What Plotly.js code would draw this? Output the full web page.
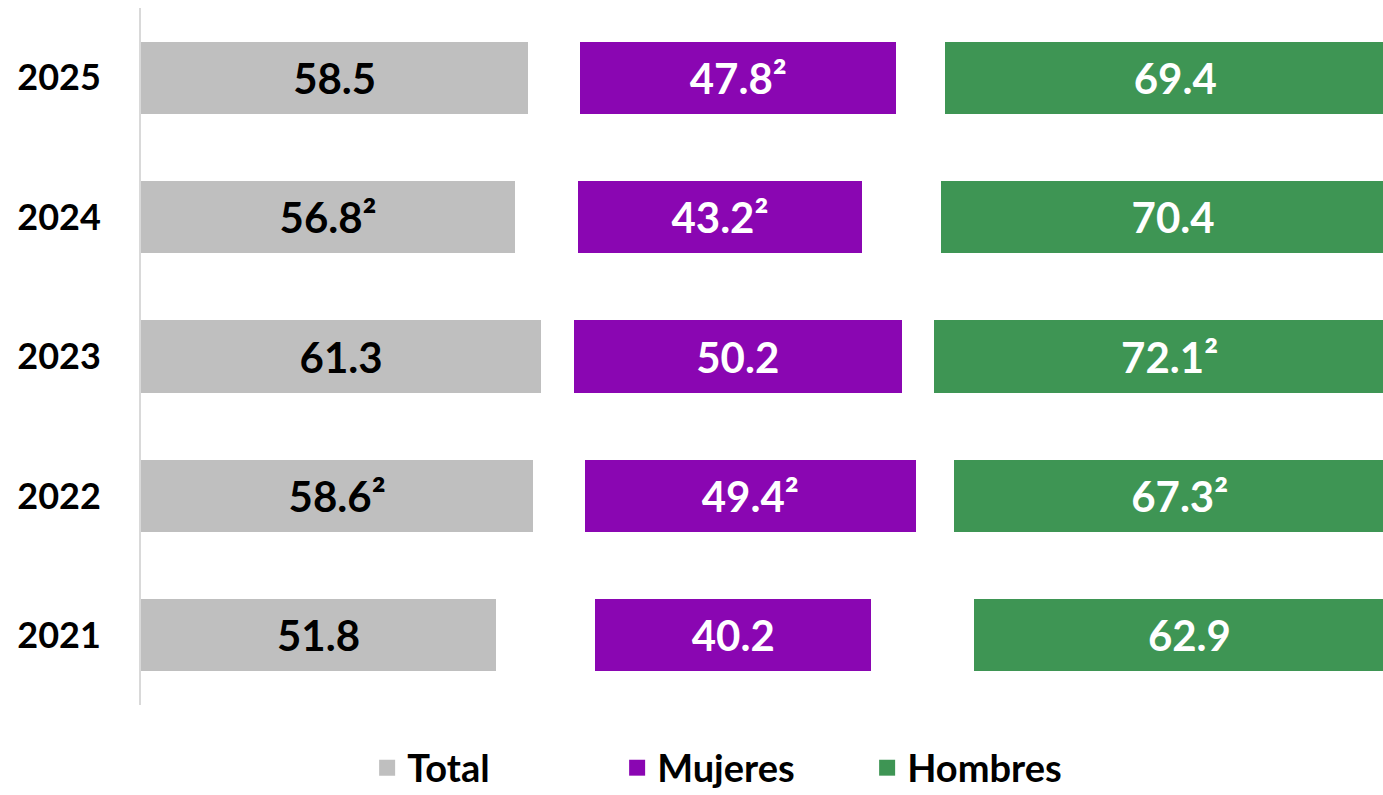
<!DOCTYPE html>
<html>
<head>
<meta charset="utf-8">
<script src="https://cdn.plot.ly/plotly-3.0.1.min.js"></script>
<style>html,body{margin:0;padding:0;background:#fff;}#chart{width:1383px;height:795px;}</style>
</head>
<body>
<div id="chart"></div>
<script>
// Categories (bottom to top)
const years = ['2021', '2022', '2023', '2024', '2025'];
// Series values
const total   = [51.8, 58.6, 61.3, 56.8, 58.5];
const mujeres = [40.2, 49.4, 50.2, 43.2, 47.8];
const hombres = [62.9, 67.3, 72.1, 70.4, 69.4];
// Footnote marks (²) shown after the value
const totalNote   = [false, true, false, true, false];
const mujeresNote = [false, true, false, true, true];
const hombresNote = [false, true, true, false, false];
// Invisible separators between the three groups
const gapTotal   = [14.5, 7.7, 5.0, 9.5, 7.8];
const gapMujeres = [15.0, 5.8, 5.0, 12.0, 7.4];
// Legend names and colours
const seriesNames  = ['Total', 'Mujeres', 'Hombres'];
const seriesColors = ['#bfbfbf', '#8a06b2', '#3e9554'];

const FONT = 'Lato, "Open Sans", sans-serif';
const lbl = (v, n) => v.map((x, i) => x.toFixed(1) + (n[i] ? '²' : ''));

function seriesTrace(k, vals, notes, textColor) {
  return {
    type: 'bar', orientation: 'h', name: seriesNames[k], legendgroup: seriesNames[k],
    y: years, x: vals, showlegend: false,
    marker: {color: seriesColors[k]},
    text: lbl(vals, notes),
    textposition: 'inside', insidetextanchor: 'middle', textangle: 0,
    constraintext: 'none',
    insidetextfont: {family: FONT, size: 42, color: textColor, weight: 'bold'},
    hoverinfo: 'name+x'
  };
}
function spacer(vals) {
  return {
    type: 'bar', orientation: 'h', y: years, x: vals,
    marker: {color: 'rgba(0,0,0,0)'}, showlegend: false, hoverinfo: 'skip'
  };
}
function legendEntry(k) {
  return {
    type: 'scatter', mode: 'markers', name: seriesNames[k], legendgroup: seriesNames[k],
    x: [null], y: [null], hoverinfo: 'skip',
    marker: {symbol: 'square', size: 22, color: seriesColors[k], line: {width: 0}}
  };
}

const data = [
  seriesTrace(0, total, totalNote, '#000000'),
  spacer(gapTotal),
  seriesTrace(1, mujeres, mujeresNote, '#ffffff'),
  spacer(gapMujeres),
  seriesTrace(2, hombres, hombresNote, '#ffffff'),
  legendEntry(0), legendEntry(1), legendEntry(2)
];

const layout = {
  width: 1383, height: 795,
  margin: {l: 141, r: 0, t: 8, b: 90, autoexpand: false},
  paper_bgcolor: '#ffffff', plot_bgcolor: '#ffffff',
  barmode: 'stack', barnorm: 'percent', bargap: 0.483,
  font: {family: FONT, color: '#000000'},
  xaxis: {range: [0, 98.26], showgrid: false, zeroline: false, showticklabels: false, showline: false, fixedrange: true},
  yaxis: {type: 'category', showgrid: false, zeroline: false, showline: true, linecolor: '#d9d9d9', linewidth: 2,
          ticks: '', ticklabelstandoff: 31,
          tickfont: {family: FONT, size: 36, color: '#000000', weight: 'bold'}},
  showlegend: true,
  legend: {orientation: 'h', xref: 'paper', x: 0.484, xanchor: 'center',
           yref: 'container', y: 0.034, yanchor: 'middle',
           font: {family: FONT, size: 38, color: '#000000', weight: 'bold'}, traceorder: 'normal',
           itemsizing: 'trace', entrywidth: 205, entrywidthmode: 'pixels'}
};

Plotly.newPlot('chart', data, layout, {displayModeBar: false, staticPlot: true});
</script>
</body>
</html>
